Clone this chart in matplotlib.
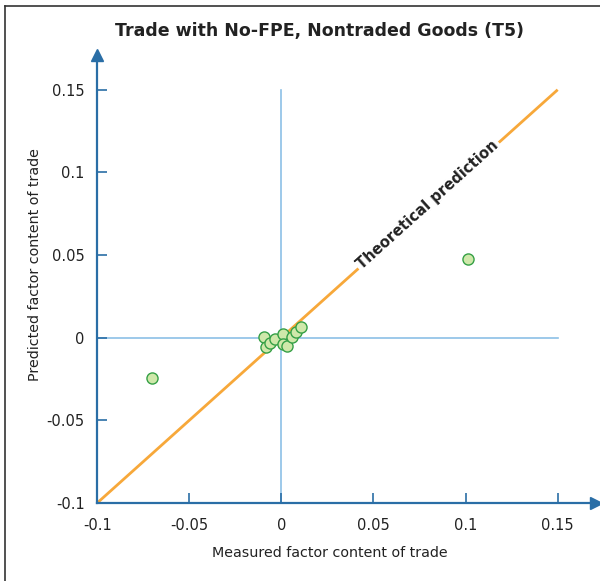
import numpy as np
import matplotlib
matplotlib.use("Agg")
import matplotlib.pyplot as plt
from matplotlib.lines import Line2D

# measured vs predicted factor content of trade
measured = [-0.070, 0.1015, -0.0096, -0.0081, -0.0063, -0.0034, 0.0009,
            0.0009, 0.0031, 0.0055, 0.0082, 0.0104]
predicted = [-0.0242, 0.0478, 0.0006, -0.0059, -0.0034, -0.0010, 0.0022,
             -0.0038, -0.0050, 0.0002, 0.0032, 0.0062]
diag = [-0.1, 0.15]
ticks = [-0.1, -0.05, 0, 0.05, 0.1, 0.15]
tick_labels = ["-0.1", "-0.05", "0", "0.05", "0.1", "0.15"]

AXIS_BLUE = "#2a6ea6"
GRID_BLUE = "#8cc0e6"
ORANGE = "#f7a83a"
TEXT = "#222222"

fig = plt.figure(figsize=(6, 5.81), dpi=100)
ax = fig.add_axes([0.162, 0.1343, 0.831, 0.771])
ax.set_xlim(-0.1, 0.1707)
ax.set_ylim(-0.1, 0.171)

# frame lines through zero
ax.plot([0, 0], diag, color=GRID_BLUE, lw=1.2, zorder=1)
ax.plot(diag, [0, 0], color=GRID_BLUE, lw=1.2, zorder=1)

# 45 degree line
ax.plot(diag, diag, color=ORANGE, lw=2, zorder=2, solid_capstyle="butt")
ax.text(0.0795, 0.0805, "Theoretical prediction", rotation=41.9,
        rotation_mode="anchor", ha="center", va="center",
        fontsize=10.6, fontweight="bold", color=TEXT, zorder=3,
        bbox=dict(facecolor="white", edgecolor="none", pad=1.5))

ax.scatter(measured, predicted, s=64, facecolor="#cfe8aa",
           edgecolor="#35a046", linewidth=1, zorder=4)

for s in ["top", "right"]:
    ax.spines[s].set_visible(False)
for s in ["left", "bottom"]:
    ax.spines[s].set_color(AXIS_BLUE)
    ax.spines[s].set_linewidth(1.6)
ax.plot(1, 0, ">", color=AXIS_BLUE, ms=8, transform=ax.transAxes, clip_on=False)
ax.plot(0, 1, "^", color=AXIS_BLUE, ms=8, transform=ax.transAxes, clip_on=False)

ax.set_xticks(ticks)
ax.set_xticklabels(tick_labels)
ax.set_yticks(ticks)
ax.set_yticklabels(tick_labels)
ax.tick_params(direction="in", length=7, width=1.2, color=AXIS_BLUE,
               labelcolor=TEXT, labelsize=10.5)
ax.tick_params(axis="x", pad=11)
ax.tick_params(axis="y", pad=9)

ax.set_xlabel("Measured factor content of trade", fontsize=10.3, color=TEXT)
ax.set_ylabel("Predicted factor content of trade", fontsize=10.3, color=TEXT)
ax.xaxis.label.set_va("center")
ax.yaxis.label.set_va("center")
ax.xaxis.set_label_coords(0.466, -0.112)
ax.yaxis.set_label_coords(-0.124, 0.533)

fig.text(0.532, 0.947, "Trade with No-FPE, Nontraded Goods (T5)",
         ha="center", va="center", fontsize=12.5, fontweight="bold", color=TEXT)

# border on left and top
fig.add_artist(Line2D([0.0075, 0.0075], [0, 0.99], transform=fig.transFigure,
                      color="#333333", lw=1.2))
fig.add_artist(Line2D([0.0075, 1], [0.99, 0.99], transform=fig.transFigure,
                      color="#333333", lw=1.2))

fig.savefig("out.png", dpi=100)
